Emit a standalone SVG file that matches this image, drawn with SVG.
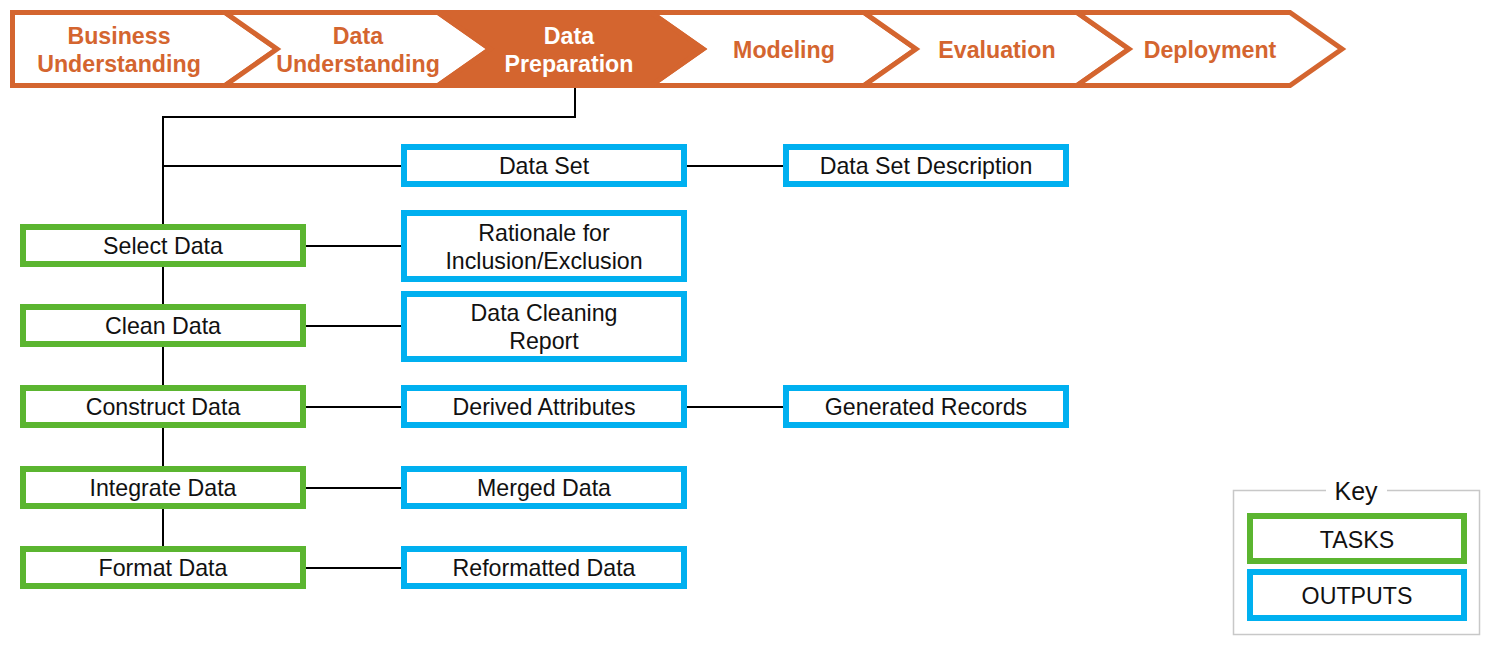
<svg xmlns="http://www.w3.org/2000/svg" width="1489" height="645" viewBox="0 0 1489 645">
<style>
.chev{fill:#fff;stroke:#D4652F;stroke-width:5;stroke-linejoin:miter}
.chev.on{fill:#D4652F}
.ht{font-family:"Liberation Sans",Arial,sans-serif;font-weight:bold;font-size:23.2px;fill:#D4652F;text-anchor:middle}
.ht.on{fill:#fff}
.task{fill:#fff;stroke:#5BB530;stroke-width:6}
.out{fill:#fff;stroke:#00B0F0;stroke-width:6}
.t{font-family:"Liberation Sans",Arial,sans-serif;font-size:23.2px;fill:#111;text-anchor:middle}
.c{fill:none;stroke:#000;stroke-width:2}
</style>
<rect width="1489" height="645" fill="#fff"/>
<g id="phases">
<g id="p1"><polygon class="chev" points="12.5,12.5 225,12.5 277,49 225,85.5 12.5,85.5"/></g>
<g id="p2"><polygon class="chev" points="225,12.5 438,12.5 490,49 438,85.5 225,85.5 277,49"/></g>
<g id="p4"><polygon class="chev" points="651,12.5 864,12.5 916,49 864,85.5 651,85.5 703,49"/></g>
<g id="p5"><polygon class="chev" points="864,12.5 1077,12.5 1129,49 1077,85.5 864,85.5 916,49"/></g>
<g id="p6"><polygon class="chev" points="1077,12.5 1290,12.5 1342,49 1290,85.5 1077,85.5 1129,49"/></g>
<g id="p3"><polygon class="chev on" points="438,12.5 651,12.5 703,49 651,85.5 438,85.5 490,49"/></g>
<text class="ht" x="119" y="44">Business</text>
<text class="ht" x="119" y="72">Understanding</text>
<text class="ht" x="358" y="44">Data</text>
<text class="ht" x="358" y="72">Understanding</text>
<text class="ht on" x="569" y="44">Data</text>
<text class="ht on" x="569" y="72">Preparation</text>
<text class="ht" x="784" y="58">Modeling</text>
<text class="ht" x="997" y="58">Evaluation</text>
<text class="ht" x="1210" y="58">Deployment</text>
</g>
<g id="connectors">
<polyline class="c" points="575,88 575,117 163,117 163,227"/>
<line class="c" x1="163" y1="166" x2="404" y2="166"/>
<line class="c" x1="687" y1="166" x2="786" y2="166"/>
<line class="c" x1="163" y1="267" x2="163" y2="307"/>
<line class="c" x1="163" y1="347" x2="163" y2="388"/>
<line class="c" x1="163" y1="428" x2="163" y2="469"/>
<line class="c" x1="163" y1="509" x2="163" y2="549"/>
<line class="c" x1="306" y1="246" x2="404" y2="246"/>
<line class="c" x1="306" y1="326" x2="404" y2="326"/>
<line class="c" x1="306" y1="407" x2="404" y2="407"/>
<line class="c" x1="687" y1="407" x2="786" y2="407"/>
<line class="c" x1="306" y1="488" x2="404" y2="488"/>
<line class="c" x1="306" y1="568" x2="404" y2="568"/>
</g>
<g id="data-set"><rect class="out" x="404" y="147" width="280" height="37"/><text class="t" x="544" y="174">Data Set</text></g>
<g id="data-set-description"><rect class="out" x="786" y="147" width="280" height="37"/><text class="t" x="926" y="174">Data Set Description</text></g>
<g id="select-data"><rect class="task" x="23" y="227" width="280" height="37"/><text class="t" x="163" y="254">Select Data</text></g>
<g id="rationale"><rect class="out" x="404" y="213" width="280" height="66"/><text class="t" x="544" y="241">Rationale for</text><text class="t" x="544" y="269">Inclusion/Exclusion</text></g>
<g id="clean-data"><rect class="task" x="23" y="307" width="280" height="37"/><text class="t" x="163" y="334">Clean Data</text></g>
<g id="data-cleaning-report"><rect class="out" x="404" y="294" width="280" height="65"/><text class="t" x="544" y="321">Data Cleaning</text><text class="t" x="544" y="349">Report</text></g>
<g id="construct-data"><rect class="task" x="23" y="388" width="280" height="37"/><text class="t" x="163" y="415">Construct Data</text></g>
<g id="derived-attributes"><rect class="out" x="404" y="388" width="280" height="37"/><text class="t" x="544" y="415">Derived Attributes</text></g>
<g id="generated-records"><rect class="out" x="786" y="388" width="280" height="37"/><text class="t" x="926" y="415">Generated Records</text></g>
<g id="integrate-data"><rect class="task" x="23" y="469" width="280" height="37"/><text class="t" x="163" y="496">Integrate Data</text></g>
<g id="merged-data"><rect class="out" x="404" y="469" width="280" height="37"/><text class="t" x="544" y="496">Merged Data</text></g>
<g id="format-data"><rect class="task" x="23" y="549" width="280" height="37"/><text class="t" x="163" y="576">Format Data</text></g>
<g id="reformatted-data"><rect class="out" x="404" y="549" width="280" height="37"/><text class="t" x="544" y="576">Reformatted Data</text></g>
<g id="key">
<rect x="1233.5" y="490.5" width="246" height="144" fill="none" stroke="#C8C8C8" stroke-width="1.5"/>
<rect x="1326" y="480" width="61" height="20" fill="#fff"/>
<text class="t" x="1356" y="500" style="font-size:25px">Key</text>
<rect class="task" x="1250" y="516" width="214" height="45"/>
<text class="t" x="1357" y="547.5">TASKS</text>
<rect class="out" x="1250" y="572" width="214" height="46"/>
<text class="t" x="1357" y="604">OUTPUTS</text>
</g>
</svg>
